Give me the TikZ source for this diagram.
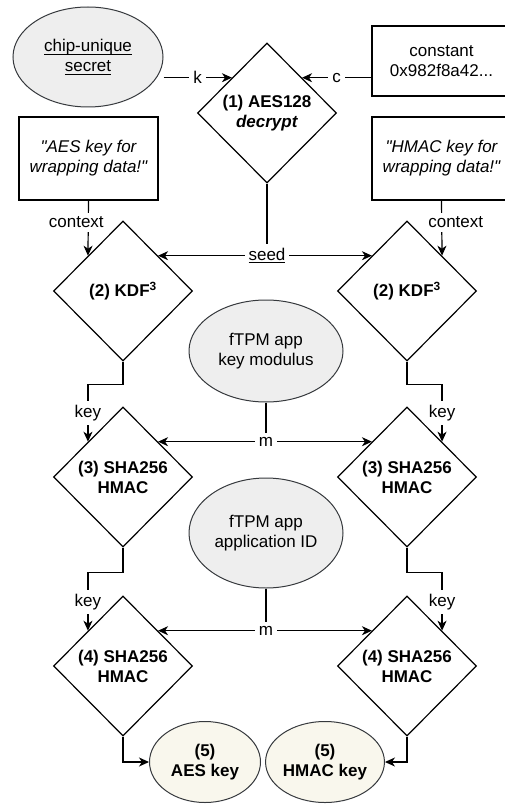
\documentclass[tikz,border=0pt]{standalone}
\usepackage{fontspec}
\setmainfont{Liberation Sans}
\usetikzlibrary{shapes.geometric,arrows.meta}
\definecolor{grayfill}{HTML}{EEEEEE}
\definecolor{beigefill}{HTML}{F9F7ED}
\definecolor{edgegray}{HTML}{36393D}
\newcommand\basefont{\fontsize{17}{20}\selectfont}
\newcommand\myul[1]{\setbox0=\hbox{#1}\rlap{\rule[-3pt]{\wd0}{1.1pt}}\box0}
\begin{document}
\begin{tikzpicture}[x=1pt,y=-1pt,
  every node/.style={align=center, inner sep=0pt, font=\basefont},
  dia/.style={diamond, draw, line width=1.2pt, minimum width=139pt, minimum height=140pt, aspect=1, font=\basefont\bfseries},
  grayell/.style={ellipse, draw=edgegray, fill=grayfill, line width=1pt},
  beigeell/.style={ellipse, draw=edgegray, fill=beigefill, line width=1pt, font=\basefont\bfseries},
  txtbox/.style={rectangle, draw, line width=1.2pt, minimum width=139pt},
  conn/.style={line width=1.2pt},
  arr/.style={conn, -{Stealth[length=10pt,width=9pt,inset=3pt]}},
  lbl/.style={fill=white, inner sep=4pt}
]
\useasboundingbox (0,0) rectangle (505,805);
\clip (0,0) rectangle (505,805);

% nodes
\node[grayell, minimum width=150pt, minimum height=100pt] (chip) at (88,57) {\myul{chip-unique}\\\myul{secret}};
\node[dia] (d1) at (267,113) {(1) AES128\\\textit{decrypt}};
\node[txtbox, minimum height=70pt] (const) at (441.5,61) {constant\\0x982f8a42...};
\node[txtbox, minimum height=83pt, font=\basefont\itshape] (ctxL) at (88.5,158.5) {\textquotedbl AES key for\\wrapping data!\textquotedbl};
\node[txtbox, minimum height=83pt, font=\basefont\itshape] (ctxR) at (441.5,158.5) {\textquotedbl HMAC key for\\wrapping data!\textquotedbl};

\node[dia] (kdfL) at (123,291) {(2) KDF\textsuperscript{3}};
\node[dia] (kdfR) at (407,291) {(2) KDF\textsuperscript{3}};
\node[grayell, minimum width=154pt, minimum height=102pt] (mod) at (266,351) {fTPM app\\key modulus};

\node[dia] (h3L) at (123,477) {(3) SHA256\\HMAC};
\node[dia] (h3R) at (407,477) {(3) SHA256\\HMAC};
\node[grayell, minimum width=154pt, minimum height=110pt] (app) at (266,533) {fTPM app\\application ID};

\node[dia] (h4L) at (123,666) {(4) SHA256\\HMAC};
\node[dia] (h4R) at (407,666) {(4) SHA256\\HMAC};
\node[beigeell, minimum width=111pt, minimum height=81pt] (aes) at (205,762) {(5)\\AES key};
\node[beigeell, minimum width=114pt, minimum height=81pt] (hmac) at (325,762) {(5)\\HMAC key};

% connectors
\draw[arr] (chip.east |- d1.north west) -- node[lbl]{k} (d1.north west);
\draw[arr] (const.west |- d1.north east) -- node[lbl]{c} (d1.north east);

\draw[arr] (ctxL.south) -- node[lbl, pos=0.39, xshift=-12pt]{context} (kdfL.north west);
\draw[arr] (ctxR.south) -- node[lbl, pos=0.39, xshift=14pt]{context} (kdfR.north east);

\coordinate (seedpt) at (d1.south |- kdfL.north east);
\draw[conn] (d1.south) -- (seedpt);
\draw[arr] (seedpt) -- (kdfL.north east);
\draw[arr] (seedpt) -- (kdfR.north west);
\node[lbl] at (seedpt) {\myul{seed}};

\draw[arr] (kdfL.south) -- ++(0,23) -| node[lbl, pos=0.75]{key} (h3L.north west);
\draw[arr] (kdfR.south) -- ++(0,23) -| node[lbl, pos=0.75]{key} (h3R.north east);

\coordinate (m1) at (mod.south |- h3L.north east);
\draw[conn] (mod.south) -- (m1);
\draw[arr] (m1) -- (h3L.north east);
\draw[arr] (m1) -- (h3R.north west);
\node[lbl] at (m1) {m};

\draw[arr] (h3L.south) -- ++(0,25) -| node[lbl, pos=0.75]{key} (h4L.north west);
\draw[arr] (h3R.south) -- ++(0,25) -| node[lbl, pos=0.75]{key} (h4R.north east);

\coordinate (m2) at (app.south |- h4L.north east);
\draw[conn] (app.south) -- (m2);
\draw[arr] (m2) -- (h4L.north east);
\draw[arr] (m2) -- (h4R.north west);
\node[lbl] at (m2) {m};

\draw[arr] (h4L.south) |- (aes.west);
\draw[arr] (h4R.south) |- (hmac.east);
\end{tikzpicture}
\end{document}
